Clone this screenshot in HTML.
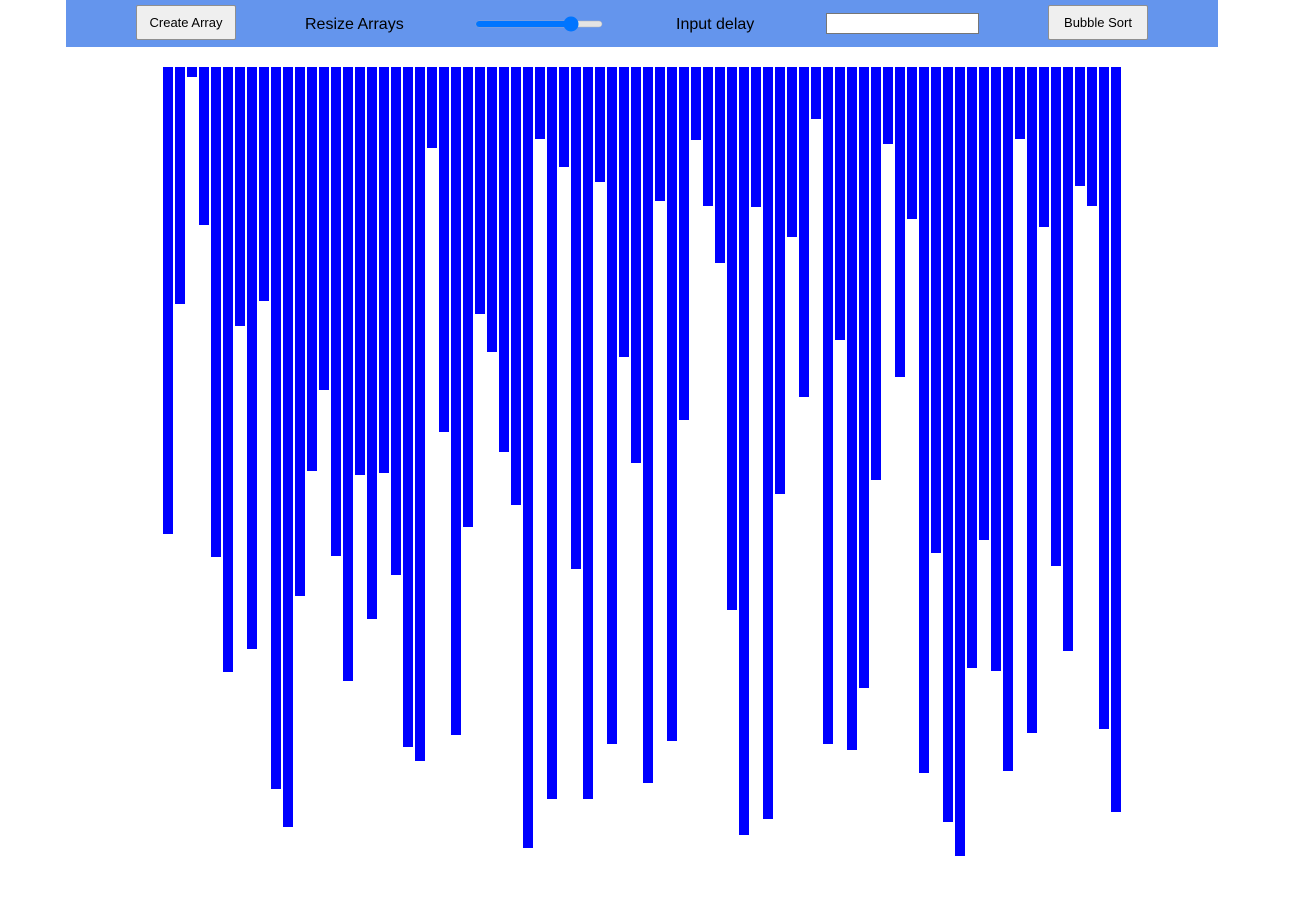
<!DOCTYPE html>
<html><head><meta charset="utf-8"><style>
body{margin:0;width:1295px;height:907px;background:#fff;font-family:"Liberation Sans",sans-serif;position:relative;overflow:hidden}
#hdr{position:absolute;left:66px;top:0;width:1152px;height:47px;background:#6495ED}
.btn{position:absolute;top:5px;height:35px;background:#efefef;border:1px solid #8f8f8f;border-radius:2px;font-size:13px;color:#000;display:flex;align-items:center;justify-content:center;box-sizing:border-box}
.lbl{position:absolute;top:16px;font-size:16px;color:#000}
#chart{position:absolute;left:0;top:0}
</style></head><body>
<div id="hdr">
  <div class="btn" style="left:70px;width:100px">Create Array</div>
  <div class="lbl" style="left:239px">Resize Arrays</div>
  <svg style="position:absolute;left:408px;top:14px" width="132" height="20">
    <rect x="2" y="7" width="126" height="6" rx="3" fill="#e4e4e4" stroke="#b5b5b5" stroke-width="0.5"/>
    <rect x="2" y="7" width="95" height="6" rx="3" fill="#0075ff"/>
    <circle cx="97" cy="10" r="7.5" fill="#0075ff"/>
  </svg>
  <div class="lbl" style="left:610px">Input delay</div>
  <div style="position:absolute;left:760px;top:13px;width:153px;height:21px;background:#fff;border:1px solid #767676;box-sizing:border-box"></div>
  <div class="btn" style="left:982px;width:100px">Bubble Sort</div>
</div>
<svg id="chart" width="1295" height="907"></svg>
<script>
const barValues=[467,237,10,158,490,605,259,582,234,722,760,529,404,323,489,614,408,552,406,508,680,694,81,365,668,460,247,285,385,438,781,72,732,100,502,732,115,677,290,396,716,134,674,353,73,139,196,543,768,140,752,427,170,330,52,677,273,683,621,413,77,310,152,706,486,755,789,601,473,604,704,72,666,160,499,584,119,139,662,745];
const originX=163, originY=67, pitch=12, barW=10, scale=1;
function xPos(i){return originX+i*pitch;}
function hScale(v){return v*scale;}
const svg=document.getElementById('chart');
barValues.forEach((v,i)=>{
  const r=document.createElementNS('http://www.w3.org/2000/svg','rect');
  r.setAttribute('x',xPos(i));r.setAttribute('y',originY);
  r.setAttribute('width',barW);r.setAttribute('height',hScale(v));
  r.setAttribute('fill','#0000ff');
  
  
  svg.appendChild(r);
});
</script>
</body></html>
